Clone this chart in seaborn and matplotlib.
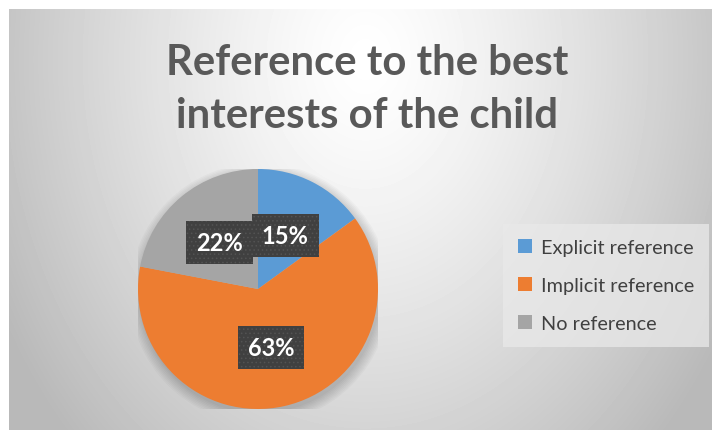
import numpy as np
import matplotlib
matplotlib.use("Agg")
import matplotlib.pyplot as plt
import seaborn as sns
from matplotlib.patches import Circle

# ---- data ----
categories = ["Explicit reference", "Implicit reference", "No reference"]
shares = [15, 63, 22]
colors = ["#5B9BD5", "#ED7D31", "#A5A5A5"]
title = "Reference to the best\ninterests of the child"

sns.set_theme(style="white")
plt.rcParams["font.family"] = ["Lato", "DejaVu Sans"]

W, H = 712, 431
fig = plt.figure(figsize=(W / 100, H / 100), dpi=100)
fig.patch.set_facecolor("white")

# ---- radial gradient background (chart area) ----
x0, y0 = 9, 10
bg = fig.add_axes([x0 / W, 0, 1 - x0 / W, (H - y0) / H])
xs = np.arange(x0, W)
ys = np.arange(y0, H)
X, Y = np.meshgrid(xs, ys)
d = np.sqrt(((X - 365) / 360.0) ** 2 + ((Y - 60) / 470.0) ** 2)
val = 1.0 - (1.0 - 0.77) * np.clip(d, 0, 1.15) ** 1.3
bg.imshow(val, cmap="gray", vmin=0, vmax=1, aspect="auto",
          extent=[0, 1, 0, 1], interpolation="bilinear")
bg.set_xlim(0, 1)
bg.set_ylim(0, 1)
bg.axis("off")

# ---- pie ----
cx, cy, r = 258, 290, 120
ax = fig.add_axes([(cx - r) / W, (H - cy - r) / H, 2 * r / W, 2 * r / H])
ax.set_facecolor("none")

# soft shadow
for k in range(8):
    ax.add_patch(Circle((0.015, -0.035), 1.0 + 0.012 * k, facecolor="black",
                        alpha=0.025, edgecolor="none", zorder=0))

plt.rcParams["hatch.linewidth"] = 0.6
wedges, texts, autotexts = ax.pie(
    shares, colors=colors, startangle=90, counterclock=False,
    autopct="%1.0f%%", pctdistance=0.5, radius=1.0,
    wedgeprops=dict(linewidth=0, zorder=2),
    textprops=dict(color="white", fontsize=17, fontweight="bold"),
)
for t in autotexts:
    t.set_zorder(5)
    t.set_bbox(dict(boxstyle="square,pad=0.42", facecolor="#404040",
                    edgecolor="#535353", linewidth=0, hatch="...."))
ax.set_xlim(-1, 1)
ax.set_ylim(-1, 1)
ax.set_aspect("equal")
ax.axis("off")

# ---- title ----
fig.text(367 / W, 1 - 44 / H, title, ha="center", va="top",
         fontsize=30.2, fontweight="bold", color="#595959", linespacing=1.47)

# ---- legend ----
leg = fig.legend(wedges, categories, loc="upper left",
                 bbox_to_anchor=(503 / W, 1 - 225 / H),
                 fontsize=14.3, frameon=True, fancybox=False,
                 handlelength=0.7, handleheight=0.7, handletextpad=0.45,
                 labelspacing=1.05, borderpad=0.75, borderaxespad=0)
leg.get_frame().set_facecolor("#e9e9e9")
leg.get_frame().set_alpha(0.75)
leg.get_frame().set_linewidth(0)
for t in leg.get_texts():
    t.set_color("#404040")

fig.savefig("out.png", dpi=100)
